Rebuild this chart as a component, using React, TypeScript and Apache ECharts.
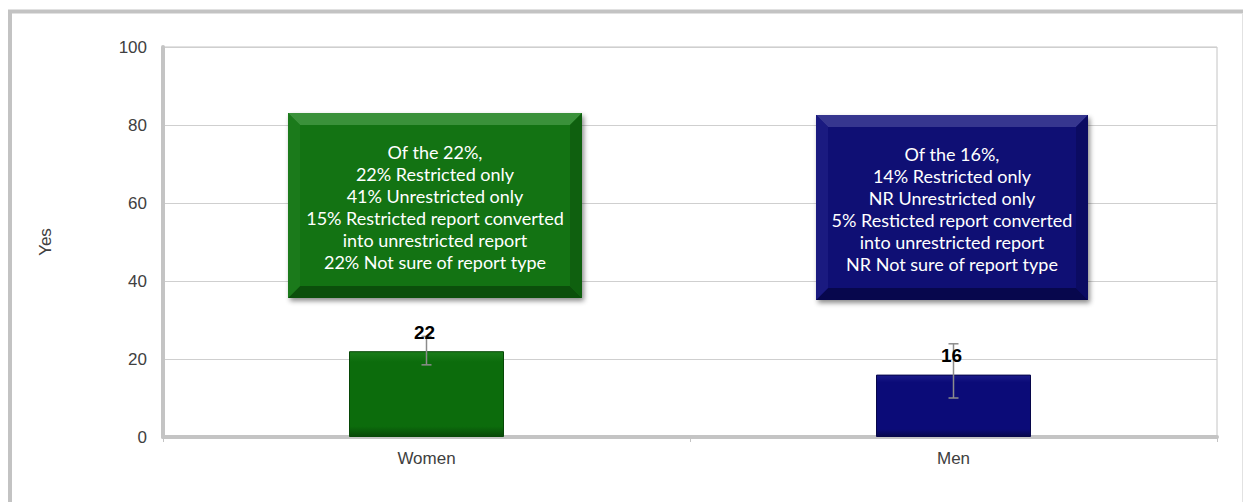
import React, { useEffect, useRef } from "react";
import * as echarts from "echarts";

const categories = ["Women", "Men"];
const values = [22, 16];
const errLow = [18.5, 10];
const errHigh = [25.8, 23.9];
const yTicks = { min: 0, max: 100, interval: 20 };
const axisName = "Yes";
const boxTexts = [
  "Of the 22%,\n22% Restricted only\n41% Unrestricted only\n15% Restricted report converted\ninto unrestricted report\n22% Not sure of report type",
  "Of the 16%,\n14% Restricted only\nNR Unrestricted only\n5% Resticted report converted\ninto unrestricted report\nNR Not sure of report type",
];

const barColors = [
  { top: "#1a7d1a", base: "#0c6c0c", border: "#074807" },
  { top: "#1a1a88", base: "#0b0b78", border: "#06064a" },
];
const boxColors = [
  { light: "#3a913a", side: "#1b7a1b", dark: "#0b4f0b", sideDark: "#0f600f", center: "#137313" },
  { light: "#36368f", side: "#1a1a80", dark: "#07074d", sideDark: "#0b0b62", center: "#0f0f74" },
];

const axisFont = "'Liberation Sans', Arial, sans-serif";

function bevelBox(x: number, y: number, w: number, h: number, c: any, text: string) {
  const b = 12;
  return {
    type: "group",
    z: 100,
    children: [
      {
        type: "rect",
        z: 100,
        shape: { x, y, width: w, height: h },
        style: { fill: c.center, shadowBlur: 5, shadowOffsetX: 2, shadowOffsetY: 3, shadowColor: "rgba(0,0,0,0.45)" },
      },
      { type: "polygon", z: 100, shape: { points: [[x, y], [x + w, y], [x + w - b, y + b], [x + b, y + b]] }, style: { fill: c.light } },
      { type: "polygon", z: 100, shape: { points: [[x, y + h], [x + w, y + h], [x + w - b, y + h - b], [x + b, y + h - b]] }, style: { fill: c.dark } },
      { type: "polygon", z: 100, shape: { points: [[x, y], [x + b, y + b], [x + b, y + h - b], [x, y + h]] }, style: { fill: c.side } },
      { type: "polygon", z: 100, shape: { points: [[x + w, y], [x + w - b, y + b], [x + w - b, y + h - b], [x + w, y + h]] }, style: { fill: c.sideDark } },
      { type: "rect", z: 100, shape: { x: x + b, y: y + b, width: w - 2 * b, height: h - 2 * b }, style: { fill: c.center } },
      {
        type: "text",
        z: 101,
        x: x + w / 2,
        y: y + h / 2 + 1,
        style: {
          text,
          fill: "#ffffff",
          font: "18px Lato, 'Open Sans', sans-serif",
          lineHeight: 22,
          align: "center",
          verticalAlign: "middle",
        },
      },
    ],
  };
}

export default function App() {
  const ref = useRef<HTMLDivElement>(null);
  useEffect(() => {
    if (!ref.current) return;
    const chart = echarts.init(ref.current, null, { renderer: "svg" });
    const option: any = {
      animation: false,
      backgroundColor: "#ffffff",
      grid: {
        left: 163,
        right: 26,
        top: 47,
        bottom: 65,
        show: true,
        borderColor: "#c4c4c4",
        borderWidth: 1,
        backgroundColor: "transparent",
      },
      xAxis: {
        type: "category",
        data: categories,
        axisLine: { show: true, lineStyle: { color: "#c4c4c4", width: 4 } },
        axisTick: { show: true, length: 5, lineStyle: { color: "#c4c4c4", width: 1 } },
        axisLabel: { color: "#404040", fontFamily: axisFont, fontSize: 17, margin: 13 },
      },
      yAxis: {
        type: "value",
        min: yTicks.min,
        max: yTicks.max,
        interval: yTicks.interval,
        name: axisName,
        nameLocation: "middle",
        nameGap: 109,
        nameTextStyle: { color: "#404040", fontFamily: axisFont, fontSize: 17 },
        axisLine: { show: true, lineStyle: { color: "#c4c4c4", width: 4 } },
        axisTick: { show: false },
        axisLabel: { color: "#404040", fontFamily: axisFont, fontSize: 17, margin: 16 },
        splitLine: { show: true, lineStyle: { color: "#cfcfcf", width: 1 } },
      },
      series: [
        {
          type: "bar",
          barWidth: 155,
          z: 2,
          data: values.map((v, i) => ({
            value: v,
            itemStyle: {
              color: new echarts.graphic.LinearGradient(0, 0, 0, 1, [
                { offset: 0, color: barColors[i].top },
                { offset: 0.12, color: barColors[i].base },
                { offset: 0.88, color: barColors[i].base },
                { offset: 1, color: barColors[i].border },
              ]),
              borderColor: barColors[i].border,
              borderWidth: 1,
            },
          })),
        },
        {
          type: "custom",
          z: 3,
          data: values.map((v, i) => [i, errLow[i], errHigh[i], v]),
          renderItem: (params: any, api: any) => {
            const xi = api.value(0);
            const lo = api.coord([xi, api.value(1)]);
            const hi = api.coord([xi, api.value(2)]);
            const top = api.coord([xi, api.value(3)]);
            const cw = 5;
            const st = { stroke: "#8c8c8c", lineWidth: 1.5 };
            return {
              type: "group",
              children: [
                { type: "line", shape: { x1: lo[0], y1: lo[1], x2: hi[0], y2: hi[1] }, style: st },
                { type: "line", shape: { x1: lo[0] - cw, y1: lo[1], x2: lo[0] + cw, y2: lo[1] }, style: st },
                { type: "line", shape: { x1: hi[0] - cw, y1: hi[1], x2: hi[0] + cw, y2: hi[1] }, style: st },
                {
                  type: "text",
                  x: top[0] - 2,
                  y: top[1] - 19,
                  style: {
                    text: String(api.value(3)),
                    fill: "#000000",
                    font: "bold 19px 'Liberation Sans', Arial, sans-serif",
                    align: "center",
                    verticalAlign: "middle",
                  },
                },
              ],
            };
          },
        },
      ],
      graphic: [
        {
          type: "group",
          silent: true,
          z: -1,
          children: [
            { type: "line", shape: { x1: 8, y1: 11.5, x2: 1243, y2: 11.5 }, style: { stroke: "#c3c3c3", lineWidth: 4 } },
            { type: "line", shape: { x1: 10, y1: 10, x2: 10, y2: 502 }, style: { stroke: "#c3c3c3", lineWidth: 4 } },
            { type: "line", shape: { x1: 1242.5, y1: 13, x2: 1242.5, y2: 502 }, style: { stroke: "#e2e2e2", lineWidth: 1 } },
          ],
        },
        bevelBox(288, 113, 294, 185, boxColors[0], boxTexts[0]),
        bevelBox(816, 115, 272, 185, boxColors[1], boxTexts[1]),
      ],
    };
    chart.setOption(option);
    return () => chart.dispose();
  }, []);
  return (
    <div
      ref={ref}
      style={{ position: "absolute", left: 0, top: 0, width: 1243, height: 502 }}
    />
  );
}
